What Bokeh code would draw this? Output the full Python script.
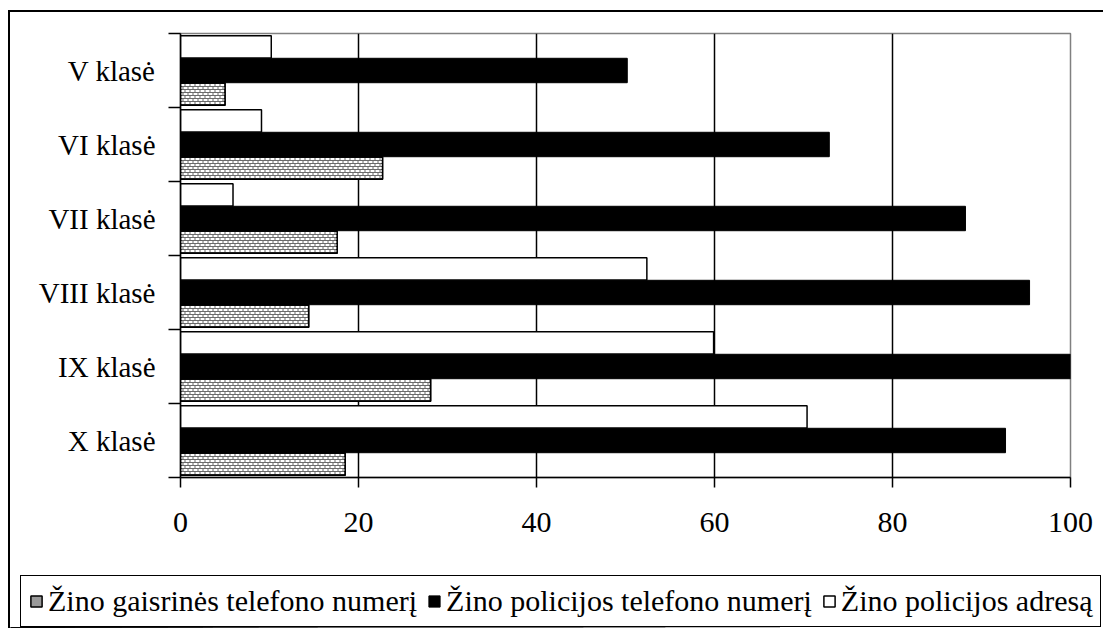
import numpy as np
from bokeh.plotting import figure
from bokeh.layouts import column
from bokeh.models import ColumnDataSource, FixedTicker, Legend, LegendItem, Range1d
from bokeh.transform import dodge
from bokeh.embed import file_html
from bokeh.resources import INLINE

categories = ["V klasė", "VI klasė", "VII klasė", "VIII klasė", "IX klasė", "X klasė"]
gaisrines_tel = [5.0, 22.7, 17.6, 14.4, 28.1, 18.5]
policijos_tel = [50.2, 72.9, 88.2, 95.4, 100.0, 92.7]
policijos_adr = [10.2, 9.1, 5.9, 52.4, 59.9, 70.4]
series_names = ["Žino gaisrinės telefono numerį", "Žino policijos telefono numerį", "Žino policijos adresą"]
x_ticks = [0, 20, 40, 60, 80, 100]

n = len(categories)
y_center = [n - i - 0.5 for i in range(n)]
y_bounds = list(range(n + 1))
OFF = 0.32
BAR_H = 0.30

src = ColumnDataSource(dict(cat=categories, y=y_center, g=gaisrines_tel, t=policijos_tel, a=policijos_adr))

# brick texture rows for the patterned series, following each bar's value
row_step = 0.0405
rows = np.arange(-BAR_H / 2 + row_step * 0.75, BAR_H / 2 - row_step * 0.3, row_step)
tex = {0: dict(x0=[], x1=[], y=[]), 1: dict(x0=[], x1=[], y=[])}
for yc, v in zip(y_center, gaisrines_tel):
    for k, r in enumerate(rows):
        d = tex[k % 2]
        d["x0"].append(0)
        d["x1"].append(v)
        d["y"].append(yc - OFF + r)

FONT = "Liberation Serif"
W = 1093

p = figure(width=W, height=548, x_range=Range1d(0, 100), y_range=Range1d(0, n),
           output_backend="svg", toolbar_location=None,
           min_border_left=170, min_border_right=33, min_border_top=21, min_border_bottom=83)
p.frame_align = False
p.background_fill_color = "white"
p.border_fill_color = "white"
p.outline_line_color = "#808080"
p.outline_line_width = 1.5


def draw_bars(fig, source):
    rg = fig.hbar(y=dodge("y", -OFF, range=fig.y_range), left=0, right="g", height=BAR_H, source=source,
                  fill_color="#6a6a6a", line_color="black", line_width=1.5)
    rt = fig.hbar(y="y", left=0, right="t", height=0.33, source=source,
                  fill_color="black", line_color="black", line_width=1)
    ra = fig.hbar(y=dodge("y", OFF, range=fig.y_range), left=0, right="a", height=BAR_H, source=source,
                  fill_color="white", line_color="black", line_width=1.5)
    return rg, rt, ra


r_g, r_t, r_a = draw_bars(p, src)
p.segment(x0="x0", x1="x1", y0="y", y1="y", source=ColumnDataSource(tex[0]), line_color="white",
          line_width=2, line_dash="4 1")
p.segment(x0="x0", x1="x1", y0="y", y1="y", source=ColumnDataSource(tex[1]), line_color="white",
          line_width=2, line_dash="4 1", line_dash_offset=2)
p.hbar(y=dodge("y", -OFF, range=p.y_range), left=0, right="g", height=BAR_H, source=src,
       fill_alpha=0, line_color="black", line_width=1.5)

# x axis
xa = p.xaxis[0]
xa.ticker = FixedTicker(ticks=x_ticks)
xa.major_tick_out = 10
xa.major_tick_in = 0
xa.minor_tick_out = 0
xa.minor_tick_in = 0
xa.axis_line_width = 1.5
xa.major_tick_line_width = 1.5
xa.major_label_text_font = FONT
xa.major_label_text_font_size = "30px"
xa.major_label_text_color = "black"
xa.major_label_standoff = 25
xa.axis_line_color = "black"

# y axis
ya = p.yaxis[0]
ya.ticker = FixedTicker(ticks=y_center, minor_ticks=y_bounds)
ya.major_label_overrides = {yc: c for yc, c in zip(y_center, categories)}
ya.major_tick_out = 0
ya.major_tick_in = 0
ya.minor_tick_out = 12
ya.minor_tick_in = 0
ya.minor_tick_line_width = 1.5
ya.minor_tick_line_color = "black"
ya.axis_line_width = 1.5
ya.axis_line_color = "black"
ya.major_label_text_font = FONT
ya.major_label_text_font_size = "29px"
ya.major_label_text_color = "black"
ya.major_label_standoff = 13

p.xgrid.ticker = FixedTicker(ticks=[t for t in x_ticks if 0 < t < 100])
p.xgrid.grid_line_color = "black"
p.xgrid.grid_line_width = 1.5
p.ygrid.visible = False

# legend strip: same series drawn out of view, used only for the legend swatches
lp = figure(width=W, height=68, x_range=Range1d(0, 100), y_range=Range1d(100, 101),
            output_backend="svg", toolbar_location=None, min_border=0,
            x_axis_location=None, y_axis_location=None)
lp.frame_align = False
lp.outline_line_color = None
lp.grid.visible = False
lp.background_fill_color = "white"
lp.border_fill_color = "white"
l_g, l_t, l_a = draw_bars(lp, src)
l_g.glyph.fill_color = "#9a9a9a"

legend = Legend(items=[LegendItem(label=series_names[0], renderers=[l_g]),
                       LegendItem(label=series_names[1], renderers=[l_t]),
                       LegendItem(label=series_names[2], renderers=[l_a])],
                orientation="horizontal", location=(10, 1),
                border_line_color="black", border_line_width=1.5, border_line_alpha=1,
                background_fill_color="white", background_fill_alpha=1,
                label_text_font=FONT, label_text_font_size="30px",
                label_text_color="black",
                glyph_width=14, glyph_height=14, spacing=10, padding=8, label_standoff=5, margin=0)
lp.add_layout(legend, "center")

layout = column(p, lp, spacing=0)
layout.styles = {"border-left": "2px solid black", "border-top": "2px solid black",
                 "margin-left": "8px", "margin-top": "10px"}

open("out.html", "w").write(file_html(layout, INLINE))
